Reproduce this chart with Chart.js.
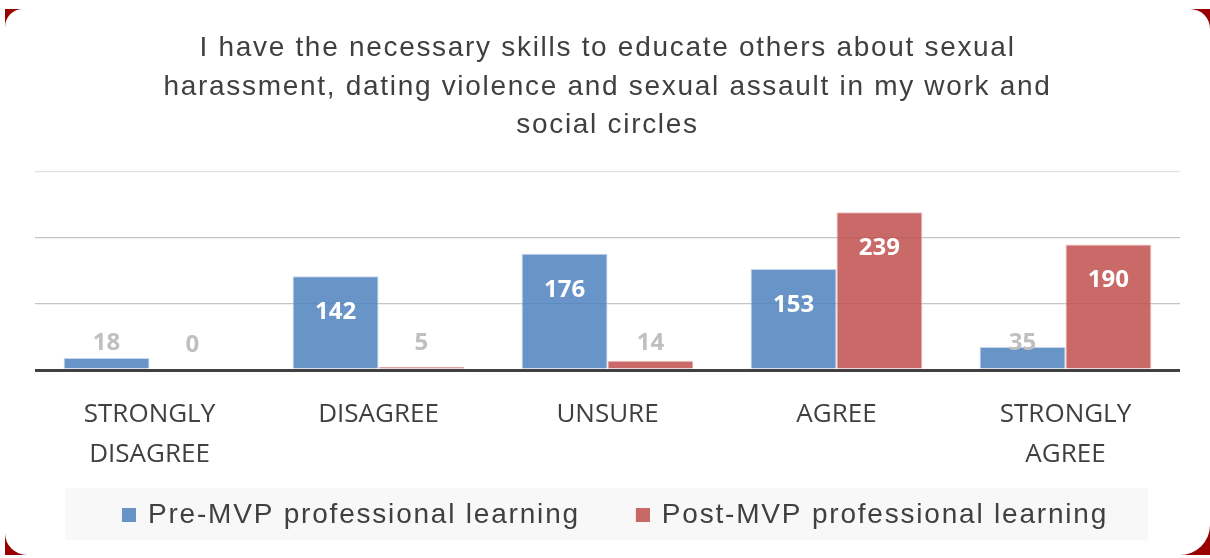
<!DOCTYPE html>
<html>
<head>
<meta charset="utf-8">
<script src="https://cdn.jsdelivr.net/npm/chart.js@4"></script>
<style>
  html, body { margin: 0; padding: 0; background: #ffffff; }
  body { width: 1210px; height: 558px; position: relative; overflow: hidden; }
  #frame { position: absolute; left: 5px; top: 9px; width: 1205px; height: 546px; background: #990000; }
  #inner { position: absolute; left: 0; top: 0; width: 100%; height: 100%; background: #ffffff;
           border-radius: 18px 20px 30px 22px; }
  #wrap { position: absolute; left: 0; top: 0; width: 1210px; height: 558px; }
</style>
</head>
<body>
<div id="frame"><div id="inner"></div></div>
<div id="wrap"><canvas id="c" width="1210" height="558"></canvas></div>
<script>
// ---- data ----
const titleLines = [
  'I have the necessary skills to educate others about sexual',
  'harassment, dating violence and sexual assault in my work and',
  'social circles'
];
const categories = [['STRONGLY', 'DISAGREE'], 'DISAGREE', 'UNSURE', 'AGREE', ['STRONGLY', 'AGREE']];
const seriesNames = ['Pre-MVP professional learning', 'Post-MVP professional learning'];
const preValues = [18, 142, 176, 153, 35];
const postValues = [0, 5, 14, 239, 190];
const yMin = 0;
const yMax = 300;
const yStep = 100;

const seriesFill = ['rgba(79,129,189,0.85)', 'rgba(192,80,77,0.85)'];
const seriesEdge = ['rgba(190,210,235,0.9)', 'rgba(235,190,190,0.9)'];

// legend marker images: a 14px square placed at the right end of a wider slot
const MARK_SLOT = 47, MARK_SIZE = 14, MARK_IMG = MARK_SLOT + 4;
function makeMarker(color) {
  const cv = document.createElement('canvas');
  cv.width = MARK_IMG; cv.height = MARK_SIZE;
  const g = cv.getContext('2d');
  g.fillStyle = color;
  g.fillRect(MARK_IMG - MARK_SIZE, 0, MARK_SIZE, MARK_SIZE);
  return cv;
}
const markers = seriesFill.map(makeMarker);

// ---- plugins ----
const spacingPlugin = {
  id: 'letterSpacing',
  afterInit(chart) {
    const wrap = (obj, name, sp, dx) => {
      if (!obj) return;
      const orig = obj[name];
      obj[name] = function (...args) {
        const ctx = chart.ctx;
        ctx.save();
        ctx.letterSpacing = sp;
        if (dx) ctx.translate(dx, 0);
        const r = orig.apply(this, args);
        ctx.restore();
        return r;
      };
    };
    wrap(chart.titleBlock, 'draw', '1.7px', 0);
    wrap(chart.legend, 'update', '1.8px', 0);
    wrap(chart.legend, 'draw', '1.8px', -10);
  }
};

const legendBg = {
  id: 'legendBg',
  beforeDraw(chart) {
    const lg = chart.legend;
    if (!lg || !lg.legendHitBoxes || !lg.legendHitBoxes.length) return;
    const hb = lg.legendHitBoxes[0];
    const ctx = chart.ctx;
    ctx.save();
    ctx.fillStyle = '#f8f8f8';
    const left = chart.chartArea.left + 30;
    const right = chart.chartArea.right - 32;
    const top = hb.top - 13;
    const bottom = hb.top + hb.height + 11;
    ctx.fillRect(left, top, right - left, bottom - top);
    ctx.restore();
  }
};

const valueLabels = {
  id: 'valueLabels',
  afterDatasetsDraw(chart) {
    const ctx = chart.ctx;
    ctx.save();
    ctx.font = 'bold 24px "Open Sans"';
    ctx.textAlign = 'center';
    ctx.textBaseline = 'middle';
    chart.data.datasets.forEach((ds, di) => {
      const meta = chart.getDatasetMeta(di);
      meta.data.forEach((el, i) => {
        const v = ds.data[i];
        const h = el.base - el.y;
        if (h > 60) {
          ctx.fillStyle = '#ffffff';
          ctx.fillText(String(v), el.x, el.y + 36);
        } else {
          ctx.fillStyle = '#bfbfbf';
          ctx.fillText(String(v), el.x, el.base - 25);
        }
      });
    });
    ctx.restore();
  }
};

new Chart(document.getElementById('c'), {
  type: 'bar',
  data: {
    labels: categories,
    datasets: [
      { label: seriesNames[0], data: preValues, backgroundColor: seriesFill[0], borderColor: seriesEdge[0], borderWidth: 1 },
      { label: seriesNames[1], data: postValues, backgroundColor: seriesFill[1], borderColor: seriesEdge[1], borderWidth: 1 }
    ]
  },
  options: {
    responsive: false,
    animation: false,
    devicePixelRatio: 1,
    categoryPercentage: 0.75,
    barPercentage: 1.0,
    layout: { padding: { left: 35, right: 30, top: 10, bottom: 19 } },
    scales: {
      x: {
        grid: { display: false, drawTicks: false },
        border: { display: false },
        ticks: {
          color: '#404040',
          padding: 25,
          maxRotation: 0,
          autoSkip: false,
          font: { family: '"Open Sans"', size: 26, lineHeight: 1.54 }
        },
        afterFit(scale) { scale.height = 110; }
      },
      y: {
        min: yMin,
        max: yMax,
        ticks: { display: false, stepSize: yStep },
        border: { display: false },
        grid: {
          drawTicks: false,
          color: (c) => c.tick.value === 0 ? '#404040' : (c.tick.value === yMax ? '#e2e2e2' : '#c4c4c4'),
          lineWidth: (c) => c.tick.value === 0 ? 3 : 1.3
        },
        afterFit(scale) { scale.width = 0; }
      }
    },
    plugins: {
      title: {
        display: true,
        text: titleLines,
        color: '#404040',
        font: { family: '"Liberation Sans"', size: 28, weight: 'normal', lineHeight: 1.38 },
        padding: { top: 19, bottom: 27 }
      },
      legend: {
        position: 'bottom',
        labels: {
          color: '#404040',
          usePointStyle: true,
          pointStyleWidth: MARK_SLOT,
          boxHeight: MARK_SIZE,
          padding: 21,
          font: { family: '"Liberation Sans"', size: 28 },
          generateLabels(chart) {
            const items = Chart.defaults.plugins.legend.labels.generateLabels(chart);
            items.forEach((it, i) => { it.pointStyle = markers[i]; });
            return items;
          }
        }
      },
      tooltip: { enabled: false }
    }
  },
  plugins: [spacingPlugin, legendBg, valueLabels]
});
</script>
</body>
</html>
